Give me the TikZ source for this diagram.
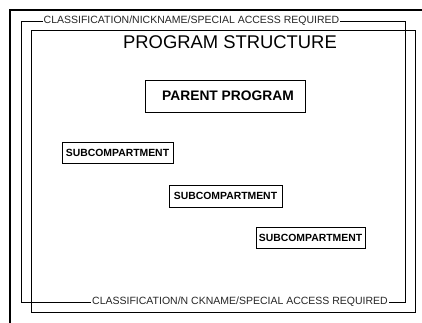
\documentclass[tikz,border=0pt]{standalone}
\usepackage{fontspec}
\setmainfont{Liberation Sans}
\begin{document}
\begin{tikzpicture}[x=1pt,y=1pt,
  frame/.style={draw=black,line width=0.9pt},
  outerframe/.style={draw=black,line width=2pt},
  classlabel/.style={fill=white,inner sep=1pt,font=\fontsize{10.5}{11}\selectfont,text=black!85},
  subbox/.style={draw=black,line width=0.8pt,minimum width=111pt,minimum height=21pt,inner sep=0pt,font=\bfseries\fontsize{10.4}{11}\selectfont},
  parentbox/.style={draw=black,line width=0.8pt,minimum width=160pt,minimum height=32pt,inner sep=0pt,font=\bfseries\fontsize{13.8}{14}\selectfont},
  titlelabel/.style={inner sep=0pt,font=\fontsize{18.4}{19}\selectfont}]
\useasboundingbox (0,0) rectangle (422,322);
\fill[white] (0,0) rectangle (422,322);
% outer thick frame (partly cut off)
\draw[outerframe] (9.5,-5) |- (430,312);
% middle frame
\draw[frame] (21,20) rectangle (405,301);
% inner frame
\draw[frame] (31,10) rectangle (415,292);
% classification labels
\node[classlabel] (ctop) at (191.5,301) {CLASSIFICATION/NICKNAME/SPECIAL ACCESS REQUIRED};
\node[classlabel] (cbot) at (240,20) {CLASSIFICATION/N CKNAME/SPECIAL ACCESS REQUIRED};
% title
\node[titlelabel] (title) at (230,280) {PROGRAM STRUCTURE};
% boxes
\node[parentbox] (parent) at (225,226) {\hspace*{6pt}PARENT PROGRAM};
\node[subbox] (sub1) at (117.5,169) {SUBCOMPARTMENT};
\node[subbox,minimum width=113pt,minimum height=22pt] (sub2) at (225.5,126) {SUBCOMPARTMENT};
\node[subbox,minimum width=109pt] (sub3) at (310.5,84.5) {SUBCOMPARTMENT};
\end{tikzpicture}
\end{document}
